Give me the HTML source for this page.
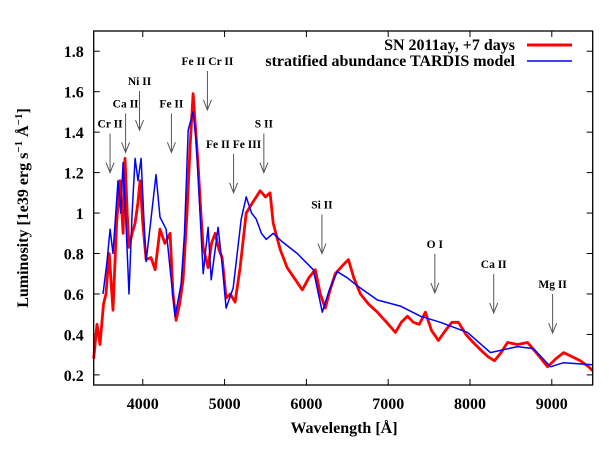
<!DOCTYPE html>
<html><head><meta charset="utf-8"><style>
body{margin:0;background:#fff}
svg{display:block;font-family:"Liberation Serif",serif;font-weight:bold}
</style></head><body>
<svg id="chart" width="614" height="450">
<rect x="0" y="0" width="614" height="450" fill="#fff"/>
<g id="grid"></g>
<g id="series"></g>
<g id="annot"></g>
<rect x="93.7" y="31" width="499" height="354" fill="none" stroke="#000" stroke-width="1.3"/>
<text x="344" y="433" text-anchor="middle" font-size="16">Wavelength [Å]</text>
<text transform="translate(28,208) rotate(-90)" text-anchor="middle" font-size="16">Luminosity [1e39 erg s<tspan dy="-6" font-size="11">−1</tspan><tspan dy="6"> Å</tspan><tspan dy="-6" font-size="11">−1</tspan><tspan dy="6">]</tspan></text>
<g>
<text x="515" y="50" text-anchor="end" font-size="16">SN 2011ay, +7 days</text>
<line x1="527" y1="45" x2="572" y2="45" stroke="#f00" stroke-width="3"/>
<text x="515" y="66" text-anchor="end" font-size="16">stratified abundance TARDIS model</text>
<line x1="527" y1="61" x2="572" y2="61" stroke="#00f" stroke-width="1.5"/>
</g>
</svg>
<script>
const xTicks=[4000,5000,6000,7000,8000,9000];
const yTicks=[0.2,0.4,0.6,0.8,1,1.2,1.4,1.6,1.8];
const yTickLabels=["0.2","0.4","0.6","0.8","1","1.2","1.4","1.6","1.8"];
const obsWave=[3400,3440,3477,3520,3550,3590,3636,3680,3722,3760,3783,3810,3832,3870,3906,3940,3967,4000,4040,4100,4150,4211,4270,4334,4370,4407,4450,4493,4540,4579,4615,4640,4677,4710,4738,4799,4840,4885,4930,4970,5019,5070,5129,5190,5264,5340,5435,5500,5557,5594,5680,5766,5850,5950,6030,6109,6170,6231,6290,6354,6440,6513,6580,6660,6760,6868,6980,7088,7160,7235,7308,7380,7455,7530,7614,7700,7780,7859,7950,8040,8140,8220,8300,8380,8459,8580,8704,8830,8949,9050,9145,9250,9350,9450,9500];
const obsLum=[0.28,0.45,0.35,0.55,0.60,0.80,0.52,0.95,1.16,0.9,1.27,1.0,0.83,0.9,0.95,1.05,1.16,0.95,0.77,0.78,0.72,0.92,0.85,0.90,0.6,0.47,0.55,0.67,1.0,1.33,1.59,1.45,1.23,1.0,0.83,0.73,0.85,0.90,0.82,0.78,0.58,0.60,0.56,0.73,1.0,1.05,1.11,1.08,1.10,0.95,0.82,0.73,0.68,0.62,0.68,0.72,0.6,0.53,0.62,0.70,0.74,0.77,0.68,0.60,0.55,0.51,0.46,0.41,0.46,0.49,0.46,0.45,0.51,0.42,0.37,0.42,0.46,0.46,0.40,0.36,0.32,0.29,0.27,0.31,0.36,0.35,0.36,0.30,0.24,0.28,0.31,0.29,0.27,0.24,0.22];
const modWave=[3514,3560,3600,3636,3697,3730,3759,3800,3832,3870,3906,3942,3979,4010,4040,4101,4162,4211,4285,4340,4395,4469,4510,4555,4615,4652,4700,4738,4799,4836,4921,4970,5019,5105,5203,5264,5330,5386,5450,5509,5594,5700,5888,6084,6194,6280,6378,6500,6623,6868,7149,7394,7638,7969,8250,8580,8776,8984,9143,9500];
const modLum=[0.60,0.75,0.92,0.80,1.16,1.0,1.25,0.9,0.60,1.0,1.27,1.16,1.27,1.0,0.76,0.97,1.19,0.98,0.92,0.7,0.49,0.65,0.9,1.41,1.50,1.36,1.0,0.70,0.93,0.67,0.93,0.75,0.53,0.63,0.97,1.08,1.0,0.97,0.90,0.87,0.90,0.86,0.80,0.72,0.51,0.62,0.71,0.68,0.64,0.57,0.54,0.49,0.46,0.41,0.31,0.34,0.33,0.24,0.26,0.25];
const lineLabels=["Cr II","Ca II","Ni II","Fe II","Fe II Cr II","Fe II Fe III","S II","Si II","O I","Ca II","Mg II"];
const lineWave=[3600,3790,3960,4350,4790,5110,5480,6190,7570,8290,9010];
const lineTipLum=[1.20,1.30,1.41,1.30,1.51,1.10,1.20,0.80,0.605,0.506,0.407];

const X0=3400,X1=9500,Y0=0.15,Y1=1.9,PL=93.7,PR=592.7,PT=31,PB=385;
const sx=w=>PL+(w-X0)/(X1-X0)*(PR-PL);
const sy=v=>PB-(v-Y0)/(Y1-Y0)*(PB-PT);
const NS="http://www.w3.org/2000/svg";
function mk(tag,attrs,parent){const e=document.createElementNS(NS,tag);for(const k in attrs)e.setAttribute(k,attrs[k]);parent.appendChild(e);return e;}
const grid=document.getElementById('grid');
xTicks.forEach(t=>{
  const x=sx(t);
  const a=mk('line',{x1:x,y1:PB,x2:x,y2:PB-6,stroke:'#000'},grid);
  
  
  mk('line',{x1:x,y1:PT,x2:x,y2:PT+6,stroke:'#000'},grid);
  const l=mk('text',{x:x,y:PB+24,'text-anchor':'middle','font-size':16},grid);
  l.textContent=t;
  
  
});
yTicks.forEach((t,i)=>{
  const y=sy(t);
  const a=mk('line',{x1:PL,y1:y,x2:PL+6,y2:y,stroke:'#000'},grid);
  
  
  mk('line',{x1:PR,y1:y,x2:PR-6,y2:y,stroke:'#000'},grid);
  const l=mk('text',{x:PL-10,y:y+6,'text-anchor':'end','font-size':16},grid);
  l.textContent=yTickLabels[i];
  
  
});
const ser=document.getElementById('series');
function path(ws,ls){return ws.map((w,i)=>(i?'L':'M')+sx(w).toFixed(1)+','+sy(ls[i]).toFixed(1)).join('');}
const r=mk('path',{d:path(obsWave,obsLum),fill:'none',stroke:'#f00','stroke-width':2.8,'stroke-linejoin':'round'},ser);


const b=mk('path',{d:path(modWave,modLum),fill:'none',stroke:'#00f','stroke-width':1.5,'stroke-linejoin':'round'},ser);


const an=document.getElementById('annot');
lineLabels.forEach((lab,i)=>{
  const x=sx(lineWave[i]),tip=sy(lineTipLum[i]);
  const g=mk('g',{},an);
  
  
  const t=mk('text',{x:x,y:tip-45,'text-anchor':'middle','font-size':11.5},g);
  t.textContent=lab;
  mk('line',{x1:x,y1:tip-39,x2:x,y2:tip,stroke:'#555','stroke-width':1},g);
  mk('path',{d:`M${x-4},${tip-10}L${x},${tip}L${x+4},${tip-10}`,fill:'none',stroke:'#555','stroke-width':1},g);
});
</script>
</body></html>
